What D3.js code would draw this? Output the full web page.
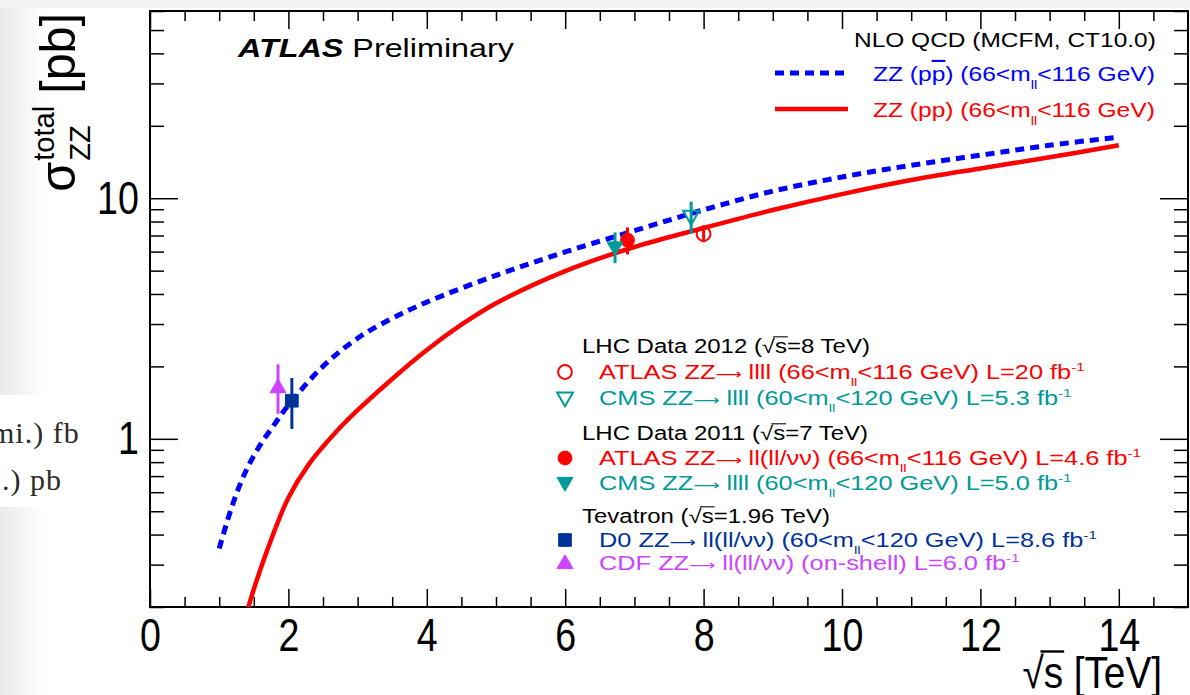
<!DOCTYPE html>
<html>
<head>
<meta charset="utf-8">
<script src="https://cdn.jsdelivr.net/npm/d3@7"></script>
<style>
  html, body { margin: 0; padding: 0; background: #ffffff; }
  svg { display: block; font-family: "Liberation Sans", Arial, Helvetica, sans-serif; }
  text { white-space: pre; }
</style>
</head>
<body>
<svg id="chart" width="1190" height="695"></svg>
<script>
// ---- NLO QCD predictions (MCFM, CT10.0): sqrt(s) in TeV, sigma in pb ----
const ppbarSqrtS = [1.0, 1.2, 1.4, 1.6, 1.8, 2.0, 2.5, 3.0, 3.5, 4.0, 5.0, 6.0, 7.0, 8.0, 9.0, 10.0, 11.0, 12.0, 13.0, 14.0];
const ppbarSigma = [0.35, 0.54, 0.75, 0.95, 1.15, 1.38, 2.0, 2.62, 3.17, 3.7, 4.78, 5.98, 7.33, 8.95, 10.7, 12.25, 13.7, 15.1, 16.6, 17.95];
const ppSqrtS = [1.4, 1.5, 1.7, 2.0, 2.3, 2.7, 3.0, 3.5, 4.0, 4.5, 5.0, 6.0, 7.0, 8.0, 9.0, 10.0, 11.0, 12.0, 13.0, 14.0];
const ppSigma = [0.19, 0.237, 0.348, 0.569, 0.787, 1.077, 1.315, 1.774, 2.34, 2.98, 3.66, 4.98, 6.27, 7.52, 8.93, 10.4, 11.9, 13.3, 14.8, 16.6];

// ---- Measurements: sqrt(s) in TeV (shifted slightly where points overlap), sigma and errors in pb ----
const measNames = ["ATLAS 2012", "CMS 2012", "ATLAS 2011", "CMS 2011", "D0", "CDF"];
const measSqrtS = [8.0, 7.82, 6.9, 6.72, 2.05, 1.85];
const measSigma = [7.1, 8.4, 6.7, 6.24, 1.44, 1.64];
const measErrUp = [0.62, 1.28, 0.86, 0.97, 0.35, 0.40];
const measErrDown = [0.54, 1.28, 0.86, 0.87, 0.34, 0.37];

// ---- Axis ticks ----
const xMajorTicks = [0, 2, 4, 6, 8, 10, 12, 14];
const xMinorTicks = [0.5, 1, 1.5, 2.5, 3, 3.5, 4.5, 5, 5.5, 6.5, 7, 7.5, 8.5, 9, 9.5, 10.5, 11, 11.5, 12.5, 13, 13.5, 14.5];
const yMajorTicks = [1, 10];
const yMinorTicks = [0.2, 0.3, 0.4, 0.5, 0.6, 0.7, 0.8, 0.9, 2, 3, 4, 5, 6, 7, 8, 9, 20, 30, 40, 50, 60];

// ---- Styles ----
const RED = "#ff0000", BLUE = "#0000ff", TEAL = "#009a9a", NAVY = "#00339a", VIOLET = "#cc44ff";
const measStyle = {
  "ATLAS 2012": { color: RED, shape: "circle", filled: false },
  "CMS 2012":   { color: TEAL, shape: "triangleDown", filled: false },
  "ATLAS 2011": { color: RED, shape: "circle", filled: true },
  "CMS 2011":   { color: TEAL, shape: "triangleDown", filled: true },
  "D0":         { color: NAVY, shape: "square", filled: true },
  "CDF":        { color: VIOLET, shape: "triangleUp", filled: true }
};

const svg = d3.select("#chart");

// ---- page background (left margin shading and a note fragment) ----
const defs = svg.append("defs");
const grad = defs.append("linearGradient").attr("id", "leftShade").attr("x1", 0).attr("x2", 1).attr("y1", 0).attr("y2", 0);
grad.append("stop").attr("offset", 0).attr("stop-color", "#e9e9e9");
grad.append("stop").attr("offset", 1).attr("stop-color", "#ffffff");
svg.append("rect").attr("x", 0).attr("y", 0).attr("width", 45).attr("height", 695).attr("fill", "url(#leftShade)");
svg.append("rect").attr("x", 0).attr("y", 0).attr("width", 1190).attr("height", 8).attr("fill", "#f3f3f3");
svg.append("rect").attr("x", 0).attr("y", 395).attr("width", 112).attr("height", 112).attr("fill", "#ffffff");
svg.append("text").attr("x", -9).attr("y", 443).attr("font-family", "'Liberation Serif', 'Times New Roman', serif")
  .attr("font-size", 30).attr("letter-spacing", 1).attr("fill", "#2b2b2b").text("mi.) fb");
svg.append("text").attr("x", 2).attr("y", 490).attr("font-family", "'Liberation Serif', 'Times New Roman', serif")
  .attr("font-size", 30).attr("letter-spacing", 1).attr("fill", "#2b2b2b").text(".) pb");

// ---- scales ----
const x = d3.scaleLinear().domain([0, 15]).range([150, 1188]);
const y = d3.scaleLog().domain([0.2, 60]).range([607, 11]);

svg.append("rect").attr("x", 150).attr("y", 11).attr("width", 1038).attr("height", 596).attr("fill", "#ffffff");

defs.append("clipPath").attr("id", "plotClip").append("rect")
  .attr("x", 150).attr("y", 11).attr("width", 1038).attr("height", 596);

// ---- axes: ticks on all four sides, pointing inward ----
function styleAxis(g) {
  g.select(".domain").remove();
  g.selectAll(".tick line").attr("stroke", "#000").attr("stroke-width", 1.5);
}
const tickFont = 47, tickSx = 0.8;

svg.append("g").attr("transform", "translate(0,607)")
  .call(d3.axisBottom(x).tickValues(xMajorTicks).tickSize(-18).tickPadding(11).tickFormat(d3.format("d")))
  .call(styleAxis)
  .call(g => g.selectAll("text").attr("font-size", tickFont).attr("font-family", "'Liberation Sans', Arial, sans-serif")
    .attr("fill", "#000").attr("transform", `scale(${tickSx},1)`));
svg.append("g").attr("transform", "translate(0,607)")
  .call(d3.axisBottom(x).tickValues(xMinorTicks).tickSize(-10).tickFormat(""))
  .call(styleAxis);
svg.append("g").attr("transform", "translate(0,11)")
  .call(d3.axisTop(x).tickValues(xMajorTicks).tickSize(-18).tickFormat(""))
  .call(styleAxis);
svg.append("g").attr("transform", "translate(0,11)")
  .call(d3.axisTop(x).tickValues(xMinorTicks).tickSize(-10).tickFormat(""))
  .call(styleAxis);

svg.append("g").attr("transform", "translate(150,0)")
  .call(d3.axisLeft(y).tickValues(yMajorTicks).tickSize(-28).tickPadding(14).tickFormat(d3.format("d")))
  .call(styleAxis)
  .call(g => g.selectAll("text").attr("font-size", tickFont).attr("font-family", "'Liberation Sans', Arial, sans-serif")
    .attr("fill", "#000").attr("transform", `scale(${tickSx},1)`));
svg.append("g").attr("transform", "translate(150,0)")
  .call(d3.axisLeft(y).tickValues(yMinorTicks).tickSize(-14).tickFormat(""))
  .call(styleAxis);
svg.append("g").attr("transform", "translate(1188,0)")
  .call(d3.axisRight(y).tickValues(yMajorTicks).tickSize(-28).tickFormat(""))
  .call(styleAxis);
svg.append("g").attr("transform", "translate(1188,0)")
  .call(d3.axisRight(y).tickValues(yMinorTicks).tickSize(-14).tickFormat(""))
  .call(styleAxis);

svg.append("rect").attr("x", 150).attr("y", 11).attr("width", 1038).attr("height", 596)
  .attr("fill", "none").attr("stroke", "#000").attr("stroke-width", 2);

// ---- theory curves ----
const plot = svg.append("g").attr("clip-path", "url(#plotClip)");
const line = d3.line().x(d => x(d[0])).y(d => y(d[1])).curve(d3.curveCatmullRom.alpha(0.5));
plot.append("path").datum(d3.zip(ppSqrtS, ppSigma)).attr("d", line)
  .attr("fill", "none").attr("stroke", RED).attr("stroke-width", 4.5);
plot.append("path").datum(d3.zip(ppbarSqrtS, ppbarSigma)).attr("d", line)
  .attr("fill", "none").attr("stroke", BLUE).attr("stroke-width", 5).attr("stroke-dasharray", "9,6");

// ---- markers ----
function marker(g, cx, cy, st) {
  let path;
  if (st.shape === "circle") path = d3.symbol(d3.symbolCircle, 150)();
  else if (st.shape === "square") path = d3.symbol(d3.symbolSquare, 160)();
  else path = d3.symbol(d3.symbolTriangle, 110)();
  const rot = st.shape === "triangleDown" ? 180 : 0;
  const dyOff = st.shape === "triangleDown" ? -1 : (st.shape === "triangleUp" ? 1 : 0);
  g.append("path").attr("d", path)
    .attr("transform", `translate(${cx},${cy + dyOff}) rotate(${rot})`)
    .attr("fill", st.filled ? st.color : "none")
    .attr("stroke", st.color).attr("stroke-width", st.filled ? 1 : 2);
}

measNames.forEach((name, i) => {
  const st = measStyle[name];
  const cx = x(measSqrtS[i]);
  plot.append("line")
    .attr("x1", cx).attr("x2", cx)
    .attr("y1", y(measSigma[i] + measErrUp[i])).attr("y2", y(measSigma[i] - measErrDown[i]))
    .attr("stroke", st.color).attr("stroke-width", 3);
  marker(plot, cx, y(measSigma[i]), st);
});

// ---- text helper: parts are plain strings or [string, kind] ----
// kinds: sub, sup, over (overlined), bi (bold italic), root (radical with bar), arrow (long arrow)
function placeText(parent, parts, o) {
  const g = parent.append("g");
  const color = o.color || "#000";
  const t = g.append("text").attr("font-size", o.size).attr("fill", color);
  let cur = 0, idx = 0;
  const roots = [];
  parts.forEach(p => {
    const [str, kind] = Array.isArray(p) ? p : [p, ""];
    let off = 0, fs = o.size;
    if (kind === "sub") { off = 0.38 * o.size; fs = 0.6 * o.size; }
    if (kind === "sup") { off = -0.42 * o.size; fs = 0.6 * o.size; }
    const ts = t.append("tspan").attr("dy", off - cur).attr("font-size", fs).text(str);
    if (kind === "over") ts.attr("text-decoration", "overline");
    if (kind === "bi") ts.attr("font-weight", "bold").attr("font-style", "italic");
    if (kind === "arrow") ts.attr("font-family", "'DejaVu Sans', sans-serif").attr("font-size", 0.72 * o.size);
    if (kind === "root") roots.push(idx);
    idx += str.length;
    cur = off;
  });
  const node = t.node();
  roots.forEach(i => {
    const r = node.getExtentOfChar(i), s = node.getExtentOfChar(i + 1);
    g.append("line")
      .attr("x1", r.x + r.width * 0.85).attr("x2", s.x + s.width + 0.03 * o.size)
      .attr("y1", -0.83 * o.size).attr("y2", -0.83 * o.size)
      .attr("stroke", color).attr("stroke-width", Math.max(1, 0.055 * o.size));
  });
  const w = node.getComputedTextLength();
  const sx = o.width ? o.width / w : (o.sx || 1);
  const x0 = o.anchor === "end" ? o.x - w * sx : o.x;
  g.attr("transform", `translate(${x0},${o.y}) scale(${sx},1)`);
  return g;
}

// ---- labels ----
placeText(svg, [["ATLAS", "bi"], " Preliminary"], { x: 238, y: 57, size: 25.5, width: 276 });

placeText(svg, ["NLO QCD (MCFM, CT10.0)"], { x: 1156, y: 47, size: 21, width: 302, anchor: "end" });
svg.append("line").attr("x1", 775).attr("x2", 848).attr("y1", 73).attr("y2", 73)
  .attr("stroke", BLUE).attr("stroke-width", 5).attr("stroke-dasharray", "9,6");
placeText(svg, ["ZZ (p", ["p", "over"], ") (66<m", ["ll", "sub"], "<116 GeV)"],
  { x: 873, y: 81, size: 21, width: 282, color: BLUE });
svg.append("line").attr("x1", 775).attr("x2", 848).attr("y1", 109).attr("y2", 109)
  .attr("stroke", RED).attr("stroke-width", 4.5);
placeText(svg, ["ZZ (pp) (66<m", ["ll", "sub"], "<116 GeV)"],
  { x: 873, y: 117, size: 21, width: 282, color: RED });

// data legend
const legendHeaders = [
  ["LHC Data 2012 (", ["√s", "root"], "=8 TeV)"],
  ["LHC Data 2011 (", ["√s", "root"], "=7 TeV)"],
  ["Tevatron (", ["√s", "root"], "=1.96 TeV)"]
];
const legendEntries = [
  ["ATLAS ZZ", ["⟶", "arrow"], " llll (66<m", ["ll", "sub"], "<116 GeV) L=20 fb", ["-1", "sup"]],
  ["CMS ZZ", ["⟶", "arrow"], " llll (60<m", ["ll", "sub"], "<120 GeV) L=5.3 fb", ["-1", "sup"]],
  ["ATLAS ZZ", ["⟶", "arrow"], " ll(ll/νν) (66<m", ["ll", "sub"], "<116 GeV) L=4.6 fb", ["-1", "sup"]],
  ["CMS ZZ", ["⟶", "arrow"], " llll (60<m", ["ll", "sub"], "<120 GeV) L=5.0 fb", ["-1", "sup"]],
  ["D0 ZZ", ["⟶", "arrow"], " ll(ll/νν) (60<m", ["ll", "sub"], "<120 GeV) L=8.6 fb", ["-1", "sup"]],
  ["CDF ZZ", ["⟶", "arrow"], " ll(ll/νν) (on-shell) L=6.0 fb", ["-1", "sup"]]
];
const headerBaselines = [353, 440, 523];
const entryBaselines = [379, 405, 465, 490, 547, 570];
legendHeaders.forEach((parts, i) =>
  placeText(svg, parts, { x: 582, y: headerBaselines[i], size: 19.5, sx: 1.23 }));
legendEntries.forEach((parts, i) => {
  const st = measStyle[measNames[i]];
  marker(svg, 565, entryBaselines[i] - 7, st);
  placeText(svg, parts, { x: 599, y: entryBaselines[i], size: 19.5, sx: 1.3, color: st.color });
});

// axis titles
placeText(svg, [["√s", "root"], " [TeV]"], { x: 1162, y: 688, size: 44, sx: 0.88, anchor: "end" });

(function yTitle() {
  const size = 44;
  const g = svg.append("g");
  const inner = g.append("g");
  const sig = inner.append("text").attr("font-size", size).text("σ");
  const ws = sig.node().getComputedTextLength();
  const tot = inner.append("text").attr("x", ws + 1).attr("y", -0.42 * size).attr("font-size", 0.6 * size).text("total");
  const zz = inner.append("text").attr("x", ws + 1).attr("y", 0.3 * size).attr("font-size", 0.6 * size).text("ZZ");
  const wm = Math.max(tot.node().getComputedTextLength(), zz.node().getComputedTextLength());
  const pb = inner.append("text").attr("x", ws + 1 + wm + 0.25 * size).attr("font-size", size).text("[pb]");
  const L = ws + 1 + wm + 0.25 * size + pb.node().getComputedTextLength();
  const ls = 1.1, hs = 1.12;
  g.attr("transform", `translate(75,${13 + L * ls}) rotate(-90) scale(${ls},${hs})`);
})();
</script>
</body>
</html>
